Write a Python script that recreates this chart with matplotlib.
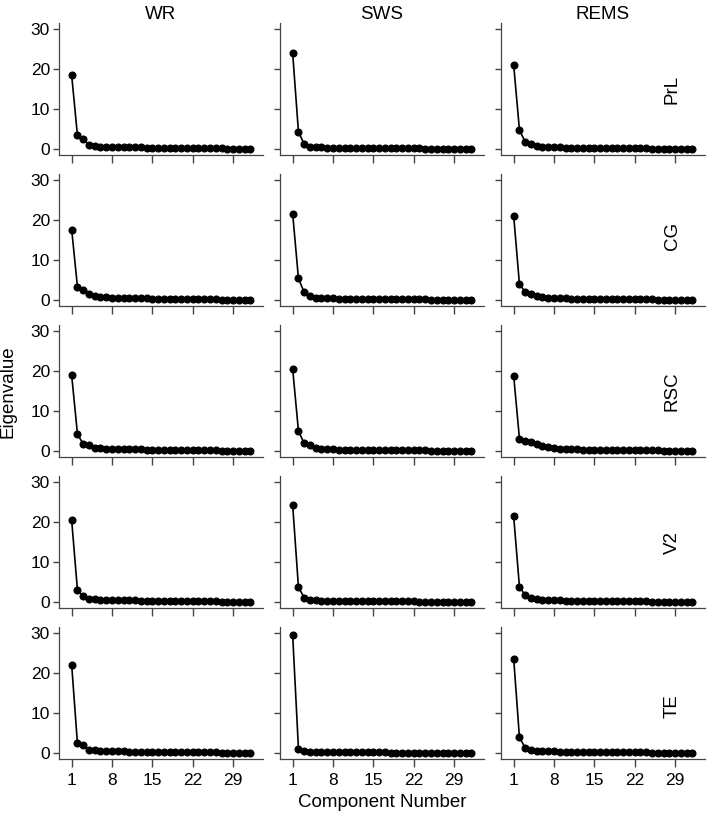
import numpy as np
import matplotlib
matplotlib.use("Agg")
import matplotlib.pyplot as plt

plt.rcParams['font.family'] = ['Liberation Sans', 'DejaVu Sans']

states = ['WR', 'SWS', 'REMS']
regions = ['PrL', 'CG', 'RSC', 'V2', 'TE']
components = np.arange(1, 33)
xticks = [1, 8, 15, 22, 29]
yticks = [0, 10, 20, 30]

# eigenvalues (32 components each)
prl_wr = [18.4, 3.4, 2.5, 1.0, 0.7, 0.6, 0.55, 0.5, 0.48, 0.45, 0.42, 0.4, 0.38, 0.36, 0.34, 0.32,
          0.3, 0.28, 0.26, 0.24, 0.22, 0.2, 0.19, 0.17, 0.16, 0.14, 0.13, 0.12, 0.1, 0.09, 0.07, 0.05]
prl_sws = [23.9, 4.3, 1.2, 0.6, 0.45, 0.4, 0.35, 0.32, 0.3, 0.28, 0.26, 0.25, 0.24, 0.22, 0.21, 0.2,
           0.19, 0.18, 0.17, 0.16, 0.15, 0.14, 0.13, 0.12, 0.11, 0.1, 0.09, 0.08, 0.07, 0.06, 0.05, 0.04]
prl_rems = [21.0, 4.8, 1.7, 1.2, 0.8, 0.6, 0.5, 0.42, 0.38, 0.35, 0.32, 0.3, 0.28, 0.26, 0.24, 0.22,
            0.21, 0.2, 0.19, 0.18, 0.16, 0.15, 0.14, 0.13, 0.12, 0.11, 0.1, 0.09, 0.08, 0.07, 0.06, 0.05]

cg_wr = [17.6, 3.3, 2.6, 1.6, 1.0, 0.8, 0.7, 0.6, 0.55, 0.5, 0.47, 0.44, 0.41, 0.38, 0.35, 0.33,
         0.3, 0.28, 0.26, 0.24, 0.22, 0.2, 0.18, 0.17, 0.15, 0.14, 0.12, 0.11, 0.1, 0.08, 0.07, 0.05]
cg_sws = [21.5, 5.4, 1.9, 1.0, 0.6, 0.5, 0.42, 0.38, 0.35, 0.32, 0.3, 0.28, 0.26, 0.24, 0.23, 0.22,
          0.2, 0.19, 0.18, 0.17, 0.16, 0.15, 0.14, 0.13, 0.12, 0.11, 0.1, 0.09, 0.08, 0.07, 0.06, 0.05]
cg_rems = [21.0, 4.0, 2.0, 1.5, 1.0, 0.8, 0.6, 0.5, 0.45, 0.4, 0.37, 0.34, 0.31, 0.29, 0.27, 0.25,
           0.23, 0.22, 0.2, 0.19, 0.18, 0.16, 0.15, 0.14, 0.13, 0.12, 0.11, 0.1, 0.09, 0.07, 0.06, 0.05]

rsc_wr = [18.9, 4.3, 1.7, 1.4, 0.8, 0.7, 0.6, 0.55, 0.5, 0.47, 0.44, 0.41, 0.38, 0.35, 0.33, 0.31,
          0.29, 0.27, 0.25, 0.23, 0.21, 0.2, 0.18, 0.17, 0.15, 0.14, 0.12, 0.11, 0.1, 0.08, 0.07, 0.05]
rsc_sws = [20.5, 5.0, 1.9, 1.5, 0.7, 0.5, 0.45, 0.4, 0.37, 0.34, 0.32, 0.3, 0.28, 0.26, 0.24, 0.23,
           0.21, 0.2, 0.19, 0.18, 0.16, 0.15, 0.14, 0.13, 0.12, 0.11, 0.1, 0.09, 0.08, 0.07, 0.06, 0.05]
rsc_rems = [18.8, 3.1, 2.6, 2.2, 1.7, 1.2, 0.9, 0.7, 0.6, 0.5, 0.45, 0.4, 0.37, 0.34, 0.31, 0.29,
            0.27, 0.25, 0.23, 0.21, 0.2, 0.18, 0.17, 0.15, 0.14, 0.13, 0.12, 0.1, 0.09, 0.08, 0.06, 0.05]

v2_wr = [20.4, 3.0, 1.4, 0.8, 0.7, 0.6, 0.55, 0.5, 0.47, 0.44, 0.41, 0.38, 0.36, 0.34, 0.32, 0.3,
         0.28, 0.26, 0.24, 0.22, 0.21, 0.19, 0.18, 0.16, 0.15, 0.13, 0.12, 0.11, 0.09, 0.08, 0.06, 0.05]
v2_sws = [24.2, 3.7, 1.1, 0.6, 0.4, 0.35, 0.32, 0.3, 0.28, 0.26, 0.25, 0.24, 0.22, 0.21, 0.2, 0.19,
          0.18, 0.17, 0.16, 0.15, 0.14, 0.13, 0.12, 0.11, 0.1, 0.09, 0.08, 0.07, 0.06, 0.05, 0.04, 0.03]
v2_rems = [21.4, 3.8, 1.7, 1.1, 0.8, 0.6, 0.5, 0.45, 0.4, 0.37, 0.34, 0.32, 0.3, 0.28, 0.26, 0.24,
           0.22, 0.21, 0.2, 0.18, 0.17, 0.16, 0.15, 0.14, 0.12, 0.11, 0.1, 0.09, 0.08, 0.07, 0.06, 0.05]

te_wr = [22.0, 2.4, 1.9, 0.85, 0.65, 0.55, 0.5, 0.45, 0.42, 0.4, 0.37, 0.35, 0.33, 0.31, 0.29, 0.27,
         0.25, 0.24, 0.22, 0.21, 0.19, 0.18, 0.17, 0.15, 0.14, 0.13, 0.12, 0.1, 0.09, 0.08, 0.06, 0.05]
te_sws = [29.4, 1.1, 0.4, 0.3, 0.26, 0.24, 0.22, 0.21, 0.2, 0.19, 0.18, 0.17, 0.16, 0.15, 0.14, 0.13,
          0.13, 0.12, 0.11, 0.1, 0.1, 0.09, 0.08, 0.08, 0.07, 0.06, 0.06, 0.05, 0.04, 0.04, 0.03, 0.02]
te_rems = [23.6, 3.9, 1.3, 0.7, 0.6, 0.5, 0.45, 0.4, 0.37, 0.34, 0.32, 0.3, 0.28, 0.26, 0.24, 0.22,
           0.21, 0.2, 0.18, 0.17, 0.16, 0.15, 0.14, 0.13, 0.12, 0.11, 0.1, 0.09, 0.08, 0.07, 0.06, 0.05]

data = [
    [prl_wr, prl_sws, prl_rems],
    [cg_wr, cg_sws, cg_rems],
    [rsc_wr, rsc_sws, rsc_rems],
    [v2_wr, v2_sws, v2_rems],
    [te_wr, te_sws, te_rems],
]
# vertical position of the region label inside the right-hand panel
label_y = [0.5, 0.53, 0.5, 0.5, 0.4]

fig = plt.figure(figsize=(7.08, 8.13), dpi=100)

W, H = 708, 813
col_left = [59, 280, 501]
ax_w = 204
row_bottom = [155, 306, 457, 608, 759]
ax_h = 132
spine_col = '#444444'

for r in range(5):
    for c in range(3):
        ax = fig.add_axes([col_left[c] / W, 1 - row_bottom[r] / H, ax_w / W, ax_h / H])
        ax.plot(components, data[r][c], color='black', lw=1.2, marker='o',
                markersize=4.8, markerfacecolor='black', markeredgecolor='black')
        ax.set_xlim(-1.2, 34.2)
        ax.set_ylim(-1.5, 31.5)
        ax.set_xticks(xticks)
        ax.set_yticks(yticks)
        for s in ['top', 'right']:
            ax.spines[s].set_visible(False)
        for s in ['left', 'bottom']:
            ax.spines[s].set_color(spine_col)
            ax.spines[s].set_linewidth(0.9)
        ax.tick_params(axis='x', length=6, width=1.0, color=spine_col, labelsize=12.5, pad=4)
        ax.tick_params(axis='y', length=4.5, width=1.0, color=spine_col, labelsize=12.5, pad=2)
        if c > 0:
            ax.set_yticklabels([])
        if r < 4:
            ax.set_xticklabels([])
        if r == 0:
            ax.set_title(states[c], fontsize=13.5, pad=3)
        if c == 2:
            ax.text(0.84, label_y[r], regions[r], transform=ax.transAxes, rotation=90,
                    ha='center', va='center', fontsize=13.5)

fig.text(0.012, 0.518, 'Eigenvalue', rotation=90, ha='center', va='center', fontsize=13.5)
fig.text(0.54, 0.013, 'Component Number', ha='center', va='center', fontsize=13.5)

fig.savefig('out.png', dpi=100)
